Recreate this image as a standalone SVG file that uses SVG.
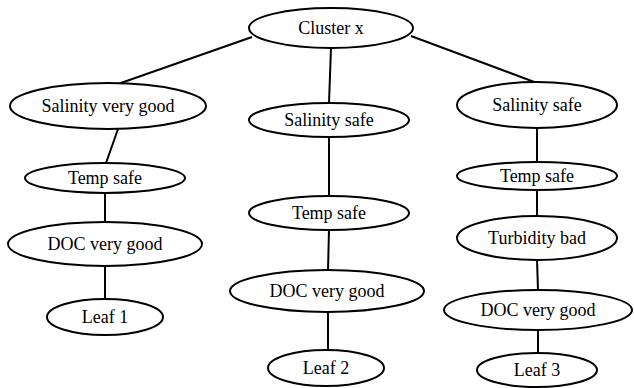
<svg xmlns="http://www.w3.org/2000/svg" width="634" height="388" viewBox="0 0 634 388">
<style>
.n{fill:#fff;stroke:#000;stroke-width:2}
.e{stroke:#000;stroke-width:2;fill:none}
.t{font-family:'Liberation Serif','Times New Roman','DejaVu Serif',serif;font-size:18px;text-anchor:middle;fill:#000}
</style>
<rect width="634" height="388" fill="#fff"/>
<g id="edges">
<line class="e" x1="252" y1="37" x2="118" y2="84"/>
<line class="e" x1="331" y1="48" x2="329" y2="103"/>
<line class="e" x1="411" y1="36" x2="537" y2="83"/>
<line class="e" x1="118" y1="129" x2="106" y2="163"/>
<line class="e" x1="105" y1="193" x2="105" y2="222"/>
<line class="e" x1="105" y1="266" x2="105" y2="299"/>
<line class="e" x1="329" y1="137" x2="329" y2="196"/>
<line class="e" x1="329" y1="230" x2="328" y2="270"/>
<line class="e" x1="328" y1="312" x2="328" y2="350"/>
<line class="e" x1="537" y1="128" x2="537" y2="162"/>
<line class="e" x1="537" y1="190" x2="537" y2="216"/>
<line class="e" x1="537" y1="260" x2="538" y2="290"/>
<line class="e" x1="538" y1="330" x2="538" y2="353"/>
</g>
<g id="cluster"><ellipse class="n" cx="331" cy="28" rx="82" ry="20"/><text class="t" x="331" y="34" font-family="Liberation Serif, serif">Cluster x</text></g>
<g id="sal1"><ellipse class="n" cx="108" cy="106" rx="98" ry="23"/><text class="t" x="108" y="112">Salinity very good</text></g>
<g id="sal2"><ellipse class="n" cx="329" cy="120" rx="80" ry="17"/><text class="t" x="329" y="126">Salinity safe</text></g>
<g id="sal3"><ellipse class="n" cx="537" cy="105" rx="80" ry="23"/><text class="t" x="537" y="111">Salinity safe</text></g>
<g id="temp1"><ellipse class="n" cx="105" cy="178" rx="80" ry="15"/><text class="t" x="105" y="184">Temp safe</text></g>
<g id="temp2"><ellipse class="n" cx="329" cy="213" rx="80" ry="17"/><text class="t" x="329" y="219">Temp safe</text></g>
<g id="temp3"><ellipse class="n" cx="537" cy="176" rx="80" ry="14"/><text class="t" x="537" y="182">Temp safe</text></g>
<g id="doc1"><ellipse class="n" cx="105" cy="244" rx="97" ry="22"/><text class="t" x="105" y="250">DOC very good</text></g>
<g id="turb3"><ellipse class="n" cx="537" cy="238" rx="80" ry="22"/><text class="t" x="537" y="244">Turbidity bad</text></g>
<g id="doc2"><ellipse class="n" cx="327" cy="291" rx="97" ry="21"/><text class="t" x="327" y="297">DOC very good</text></g>
<g id="doc3"><ellipse class="n" cx="538" cy="310" rx="94" ry="20"/><text class="t" x="538" y="316">DOC very good</text></g>
<g id="leaf1"><ellipse class="n" cx="105" cy="317" rx="58" ry="18"/><text class="t" x="105" y="323">Leaf 1</text></g>
<g id="leaf2"><ellipse class="n" cx="326" cy="368" rx="58" ry="18"/><text class="t" x="326" y="374">Leaf 2</text></g>
<g id="leaf3"><ellipse class="n" cx="537" cy="370" rx="60" ry="17"/><text class="t" x="537" y="376">Leaf 3</text></g>
</svg>
